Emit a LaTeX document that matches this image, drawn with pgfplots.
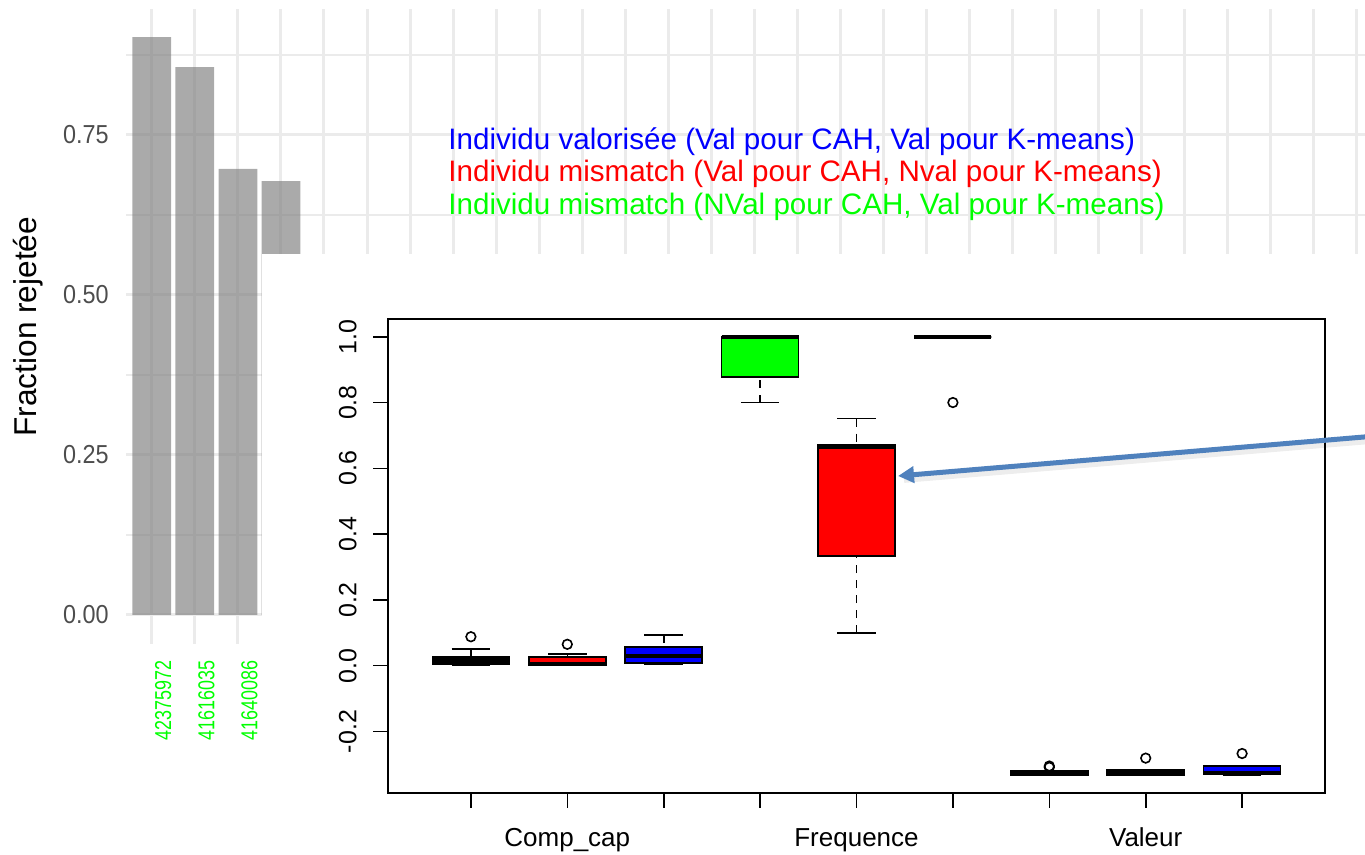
\documentclass[border=0pt]{standalone}
\usepackage{graphicx}
\usepackage{pgfplots}
\pgfplotsset{compat=1.18}
\usepackage{pgfplotstable}
\usepackage{fontspec}
\setmainfont{Liberation Sans}
\usetikzlibrary{arrows.meta}
\usepgfplotslibrary{statistics}
\definecolor{gridgray}{RGB}{235,235,235}
\definecolor{barfill}{RGB}{128,128,128}
\definecolor{ticktext}{RGB}{77,77,77}
\definecolor{arrowblue}{RGB}{79,129,189}
\definecolor{pgreen}{RGB}{0,255,0}
\definecolor{pred}{RGB}{255,0,0}
\definecolor{pblue}{RGB}{0,0,255}

\pgfplotstableread{
x y
1 0.903
2 0.856
3 0.697
4 0.678
}\bardata

\pgfplotsset{
  boxplot/draw/lower whisker/.code={%
    \draw[line width=0.8pt, dash pattern=on 4pt off 3.5pt]
      (boxplot box cs:\pgfplotsboxplotvalue{lower whisker},0.5) --
      (boxplot box cs:\pgfplotsboxplotvalue{lower quartile},0.5);
    \draw[line width=0.8pt]
      (boxplot whisker cs:\pgfplotsboxplotvalue{lower whisker},0) --
      (boxplot whisker cs:\pgfplotsboxplotvalue{lower whisker},1);
  },
  boxplot/draw/upper whisker/.code={%
    \draw[line width=0.8pt, dash pattern=on 4pt off 3.5pt]
      (boxplot box cs:\pgfplotsboxplotvalue{upper whisker},0.5) --
      (boxplot box cs:\pgfplotsboxplotvalue{upper quartile},0.5);
    \draw[line width=0.8pt]
      (boxplot whisker cs:\pgfplotsboxplotvalue{upper whisker},0) --
      (boxplot whisker cs:\pgfplotsboxplotvalue{upper whisker},1);
  },
  rbox/.style={black, line width=0.8pt, mark=o, mark size=2.4pt,
    mark options={solid, fill=none, line width=0.8pt}},
}

\begin{document}
\begin{tikzpicture}
\path[use as bounding box] (0,0) rectangle (682.5pt,427.5pt);
\clip (0,0) rectangle (682.5pt,427.5pt);

% ---------- background bar chart ----------
\begin{axis}[
  at={(63pt,105.5pt)}, anchor=south west,
  scale only axis, width=628.4pt, height=317.25pt,
  xmin=0.4, xmax=29.6, ymin=-0.0453, ymax=0.9461,
  axis line style={draw=none},
  major tick length=0pt, minor tick length=0pt,
  xtick={1,...,29},
  xticklabels={\scalebox{0.78}[1]{42375972},\scalebox{0.78}[1]{41616035},\scalebox{0.78}[1]{41640086}},
  ytick={0,0.25,0.5,0.75},
  yticklabels={\scalebox{0.9}[1]{0.00},\scalebox{0.9}[1]{0.25},\scalebox{0.9}[1]{0.50},\scalebox{0.9}[1]{0.75}},
  minor ytick={0.125,0.375,0.625,0.875},
  xmajorgrids, ymajorgrids, yminorgrids,
  major grid style={gridgray, line width=1.5pt},
  minor grid style={gridgray, line width=1pt},
  yticklabel style={anchor=east, inner sep=0pt, xshift=-8.5pt, text=ticktext,
    font=\fontsize{13}{15}\selectfont},
  xticklabel style={xshift=5.75pt, yshift=-8pt, rotate=90, anchor=east, inner sep=0pt,
    text=pgreen, font=\fontsize{11.5}{13}\selectfont},
  ylabel={Fraction rejetée},
  ylabel style={at={(axis description cs:-0.0776,0.5)}, anchor=center,
    font=\fontsize{15.8}{18}\selectfont},
]
\addplot[ybar, bar width=0.9, fill=barfill, fill opacity=0.67, draw=none]
  table[x=x, y=y] {\bardata};
\end{axis}

% white background of the inserted box-plot picture
\fill[white] (131pt,0pt) rectangle (682.5pt,300.5pt);

% ---------- box plot ----------
\begin{axis}[
  at={(194pt,31pt)}, anchor=south west,
  scale only axis, width=468.5pt, height=237pt,
  xmin=0.14, xmax=9.86, ymin=-0.387, ymax=1.054,
  axis line style={black, line width=0.8pt},
  tick style={black, line width=0.8pt},
  tick align=outside, major tick length=7.5pt,
  xtick pos=bottom, ytick pos=left,
  xtick={1,...,9},
  xticklabels={{},Comp\_cap,{},{},Frequence,{},{},Valeur,{}},
  ytick={-0.2,0,0.2,0.4,0.6,0.8,1.0},
  yticklabels={-0.2,0.0,0.2,0.4,0.6,0.8,1.0},
  xticklabel style={anchor=base, yshift=-19.5pt, font=\fontsize{13}{15}\selectfont},
  yticklabel style={xshift=-8pt, rotate=90, anchor=south, inner sep=0pt,
    font=\fontsize{12.5}{15}\selectfont},
  boxplot/draw direction=y,
]
% Comp_cap
\addplot[rbox, boxplot prepared={draw position=1, lower whisker=0.003, lower quartile=0.004,
  median=0.015, upper quartile=0.027, upper whisker=0.050, box extend=0.8, whisker extend=0.4,
  every box/.style={draw=black, fill=black}, every median/.style={line width=2pt}}]
  coordinates {(1,0.088)};
\addplot[rbox, boxplot prepared={draw position=2, lower whisker=0.0, lower quartile=0.0,
  median=0.004, upper quartile=0.026, upper whisker=0.035, box extend=0.8, whisker extend=0.4,
  every box/.style={draw=black, fill=pred}, every median/.style={line width=2pt}}]
  coordinates {(2,0.065)};
\addplot[rbox, boxplot prepared={draw position=3, lower whisker=0.005, lower quartile=0.009,
  median=0.030, upper quartile=0.056, upper whisker=0.094, box extend=0.8, whisker extend=0.4,
  every box/.style={draw=black, fill=pblue}, every median/.style={line width=2pt}}]
  coordinates {};
% Frequence
\addplot[rbox, boxplot prepared={draw position=4, lower whisker=0.80, lower quartile=0.877,
  median=1.0, upper quartile=1.0, upper whisker=1.0, box extend=0.8, whisker extend=0.4,
  every box/.style={draw=black, fill=pgreen}, every median/.style={line width=2pt}}]
  coordinates {};
\addplot[rbox, boxplot prepared={draw position=5, lower whisker=0.099, lower quartile=0.333,
  median=0.665, upper quartile=0.672, upper whisker=0.751, box extend=0.8, whisker extend=0.4,
  every box/.style={draw=black, fill=pred}, every median/.style={line width=2pt}}]
  coordinates {};
\addplot[rbox, boxplot prepared={draw position=6, lower whisker=1.0, lower quartile=1.0,
  median=1.0, upper quartile=1.0, upper whisker=1.0, box extend=0.8, whisker extend=0.4,
  every box/.style={draw=black, fill=pblue}, every median/.style={line width=2pt}}]
  coordinates {(6,0.80)};
% Valeur
\addplot[rbox, boxplot prepared={draw position=7, lower whisker=-0.334, lower quartile=-0.333,
  median=-0.327, upper quartile=-0.321, upper whisker=-0.321, box extend=0.8, whisker extend=0.4,
  every box/.style={draw=black, fill=black}, every median/.style={line width=2pt}}]
  coordinates {(7,-0.305) (7,-0.309)};
\addplot[rbox, boxplot prepared={draw position=8, lower whisker=-0.334, lower quartile=-0.334,
  median=-0.326, upper quartile=-0.316, upper whisker=-0.316, box extend=0.8, whisker extend=0.4,
  every box/.style={draw=black, fill=black}, every median/.style={line width=2pt}}]
  coordinates {(8,-0.281)};
\addplot[rbox, boxplot prepared={draw position=9, lower whisker=-0.334, lower quartile=-0.329,
  median=-0.325, upper quartile=-0.305, upper whisker=-0.305, box extend=0.8, whisker extend=0.4,
  every box/.style={draw=black, fill=pblue}, every median/.style={line width=2pt}}]
  coordinates {(9,-0.267)};
\end{axis}

% ---------- legend text ----------
\node[anchor=base west, inner sep=0pt, text=pblue, font=\fontsize{14.8}{17}\selectfont]
  at (224pt,352.5pt) {Individu valorisée (Val pour CAH, Val pour K-means)};
\node[anchor=base west, inner sep=0pt, text=pred, font=\fontsize{14.8}{17}\selectfont]
  at (224pt,336.5pt) {Individu mismatch (Val pour CAH, Nval pour K-means)};
\node[anchor=base west, inner sep=0pt, text=pgreen, font=\fontsize{14.8}{17}\selectfont]
  at (224pt,320pt) {Individu mismatch (NVal pour CAH, Val pour K-means)};

% ---------- arrow ----------
\draw[black, opacity=0.07, line width=3.5pt] (700pt,208.5pt) -- (452pt,187.8pt);
\draw[arrowblue, line width=2.5pt, -{Triangle[length=8pt,width=8pt]}]
  (700pt,210.5pt) -- (449pt,189.5pt);
\end{tikzpicture}
\end{document}
